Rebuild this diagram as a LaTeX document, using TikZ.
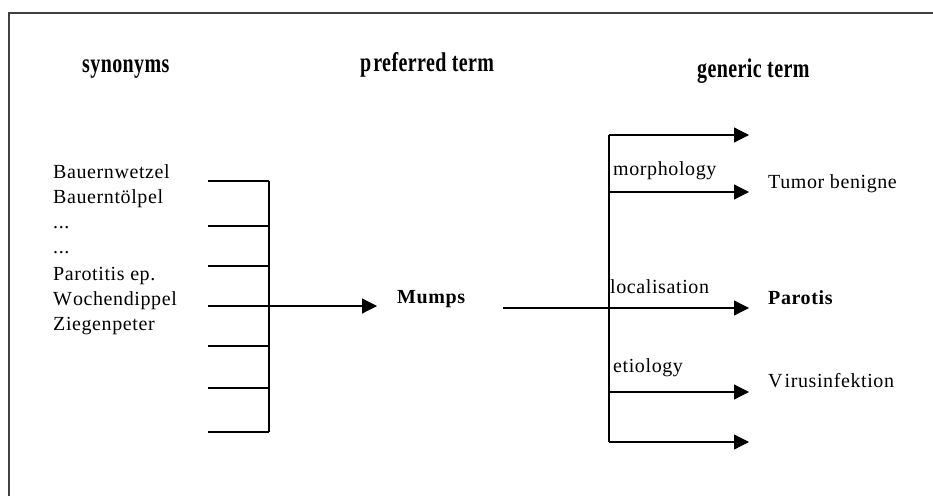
\documentclass[tikz,border=0pt]{standalone}
\usepackage{fontspec}
\setmainfont{Liberation Serif}
\newfontfamily\regfont{Liberation Serif}[LetterSpace=3]
\newfontfamily\headfont{Liberation Serif}[LetterSpace=2]
\usetikzlibrary{arrows.meta}
\definecolor{framecol}{HTML}{404040}
\begin{document}
\begin{tikzpicture}[x=1pt,y=-1pt,
  lbl/.style={anchor=base west,inner sep=0pt,font=\regfont\fontsize{20}{24}\selectfont},
  blbl/.style={anchor=base west,inner sep=0pt,font=\regfont\bfseries\fontsize{20}{24}\selectfont},
  head/.style={anchor=base west,inner sep=0pt,yscale=1.35,font=\headfont\bfseries\fontsize{20}{24}\selectfont},
  conn/.style={line width=1.2pt,black},
  arr/.style={conn,-{Triangle[length=15pt,width=15pt]}}]
\useasboundingbox (0,0) rectangle (933,495);
% frame
\coordinate (fb) at (9,497);
\coordinate (ftl) at (9,13);
\coordinate (ftr) at (935,13);
\draw[framecol,line width=1.6pt] (fb) -- (ftl) -- (ftr);
% headings
\node[head] (hsyn) at (82,72) {synonyms};
\node[head] (hpref) at (360,71) {p\kern2pt referred term};
\node[head] (hgen) at (697,77) {generic term};
% synonyms list
\node[lbl] (n1) at (53,178) {Bauernwetzel};
\node[lbl] (n2) at (53,203) {Bauerntölpel};
\node[lbl] (n3) at (53,228) {...};
\node[lbl] (n4) at (53,253) {...};
\node[lbl] (n5) at (53,280) {Parotitis ep.};
\node[lbl] (n6) at (53,305) {W\kern1pt ochendippel};
\node[lbl] (n7) at (53,330) {Ziegenpeter};
% comb
\foreach \i/\y in {1/181,2/226,3/266,4/306,5/346,6/388,7/432}{
  \coordinate (s\i) at (208,\y);
  \coordinate (j\i) at (269,\y);
  \draw[conn] (s\i) -- (j\i);
}
\draw[conn] (j1) -- (j7);
\coordinate (mtip) at (377,306);
\draw[arr] (j4) -- (mtip);
\node[blbl] (mumps) at (397,303) {Mumps};
% right side
\coordinate (rs) at (503,308);
\foreach \i/\y in {1/135,2/192,3/308,4/392,5/442}{
  \coordinate (v\i) at (609,\y);
  \coordinate (t\i) at (749,\y);
  \draw[arr] (v\i) -- (t\i);
}
\draw[conn] (rs) -- (v3);
\draw[conn] (v1) -- (v5);
\node[lbl] (morph) at (613,175) {morphology};
\node[lbl] (loc) at (610,293) {localisation};
\node[lbl] (etio) at (613,372) {etiology};
\node[lbl] (tumor) at (768,188) {Tumor benigne};
\node[blbl] (parotis) at (768,304) {Parotis};
\node[lbl] (virus) at (768,387) {V\kern2pt irusinfektion};
\end{tikzpicture}
\end{document}
